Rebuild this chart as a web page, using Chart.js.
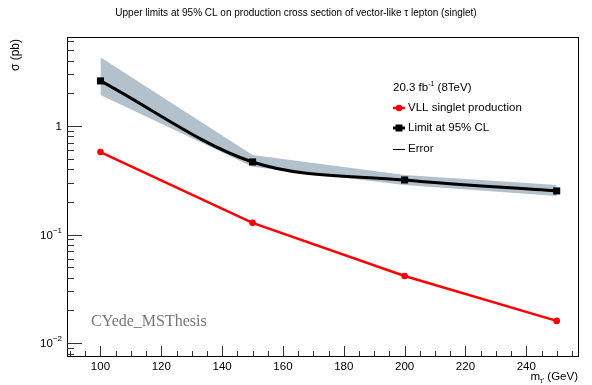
<!DOCTYPE html>
<html>
<head>
<meta charset="utf-8">
<script src="https://cdn.jsdelivr.net/npm/chart.js@4"></script>
<style>
  html, body { margin: 0; padding: 0; background: #fff; }
  #wrap { width: 592px; height: 385px; }
</style>
</head>
<body>
<div id="wrap"><canvas id="chart1" width="592" height="385"></canvas></div>
<script>
// masses (GeV)
const masses = [100, 150, 200, 250];
// VLL singlet production cross section (pb)
const vllXsec = [0.575, 0.128, 0.0415, 0.016];
// observed 95% CL limit (pb)
const limit95 = [2.6, 0.466, 0.318, 0.252];
// error band
const errUp = [4.3, 0.54, 0.353, 0.286];
const errDown = [1.93, 0.42, 0.286, 0.226];
// axis ticks
const xTicks = [100, 120, 140, 160, 180, 200, 220, 240];
const yTicks = [1, 0.1, 0.01];
const yTickLabels = [['1', ''], ['10', '\u22121'], ['10', '\u22122']];

const pts = arr => masses.map((m, i) => ({ x: m, y: arr[i] }));
const FONT = '"Liberation Sans", Arial, sans-serif';

// frame, inner ticks, labels, legend and watermark drawn like the ROOT canvas
const rootStyle = {
  id: 'rootStyle',
  afterDraw(chart) {
    const ctx = chart.ctx;
    const a = chart.chartArea;
    const xs = chart.scales.x, ys = chart.scales.y;
    ctx.save();
    ctx.strokeStyle = '#000';
    ctx.lineWidth = 1;
    ctx.strokeRect(a.left + 0.5, a.top + 0.5, a.right - a.left, a.bottom - a.top);

    // x ticks (major every 20, minor every 5)
    ctx.strokeStyle = '#333';
    for (let v = 90; v <= 255; v += 5) {
      const px = Math.round(xs.getPixelForValue(v)) + 0.5;
      const len = (v % 20 === 0) ? 10 : 5;
      ctx.beginPath();
      ctx.moveTo(px, a.bottom);
      ctx.lineTo(px, a.bottom - len);
      ctx.stroke();
    }
    ctx.fillStyle = '#000';
    ctx.font = '11.5px ' + FONT;
    ctx.textAlign = 'center';
    ctx.textBaseline = 'top';
    xTicks.forEach(v => ctx.fillText(String(v), xs.getPixelForValue(v), a.bottom + 5));

    // y ticks (log)
    for (let e = -3; e <= 1; e++) {
      for (let k = 1; k <= 9; k++) {
        const v = k * Math.pow(10, e);
        if (v < ys.min || v > ys.max) continue;
        const py = Math.round(ys.getPixelForValue(v)) + 0.5;
        const len = k === 1 ? 15 : 7;
        ctx.beginPath();
        ctx.moveTo(a.left, py);
        ctx.lineTo(a.left + len, py);
        ctx.stroke();
      }
    }
    yTicks.forEach((v, i) => {
      const py = ys.getPixelForValue(v);
      const [base, sup] = yTickLabels[i];
      ctx.textAlign = 'right';
      ctx.textBaseline = 'middle';
      let x = a.left - 5;
      if (sup) {
        ctx.font = '8px ' + FONT;
        ctx.fillText(sup, x, py - 4);
        x -= ctx.measureText(sup).width;
      }
      ctx.font = '11.5px ' + FONT;
      ctx.fillText(base, x, py + 1);
    });

    // title
    ctx.font = '10px ' + FONT;
    ctx.textAlign = 'center';
    ctx.textBaseline = 'middle';
    ctx.fillText('Upper limits at 95% CL on production cross section of vector-like \u03c4 lepton (singlet)', 296, 13);

    // y title
    ctx.save();
    ctx.translate(16, a.top + 2);
    ctx.rotate(-Math.PI / 2);
    ctx.font = '12px ' + FONT;
    ctx.textAlign = 'right';
    ctx.textBaseline = 'middle';
    ctx.fillText('\u03c3 (pb)', 0, 0);
    ctx.restore();

    // x title  m_tau' (GeV)
    ctx.textAlign = 'left';
    ctx.textBaseline = 'alphabetic';
    const t1 = 'm', t3 = ' (GeV)';
    ctx.font = '7px ' + FONT;
    const subW = ctx.measureText("\u03c4'").width;
    ctx.font = '11.5px ' + FONT;
    const w1 = ctx.measureText(t1).width, w3 = ctx.measureText(t3).width;
    let xx = a.right - (w1 + subW + w3);
    ctx.fillText(t1, xx, 380); xx += w1;
    ctx.font = '7px ' + FONT;
    ctx.fillText("\u03c4'", xx, 383); xx += subW;
    ctx.font = '11.5px ' + FONT;
    ctx.fillText(t3, xx, 380);

    // legend
    const lx = 393;
    ctx.font = '11.5px ' + FONT;
    ctx.textBaseline = 'middle';
    ctx.fillText('20.3 fb', lx, 88);
    let w = ctx.measureText('20.3 fb').width;
    ctx.font = '7px ' + FONT;
    ctx.fillText('-1', lx + w, 84);
    w += ctx.measureText('-1').width;
    ctx.font = '11.5px ' + FONT;
    ctx.fillText(' (8TeV)', lx + w, 88);

    const rows = [
      { y: 108, color: '#ff0000', label: 'VLL singlet production', marker: 'circle', lw: 2.5 },
      { y: 128, color: '#000', label: 'Limit at 95% CL', marker: 'square', lw: 3 },
      { y: 149, color: '#000', label: 'Error', marker: null, lw: 1 }
    ];
    rows.forEach(r => {
      ctx.strokeStyle = r.color;
      ctx.fillStyle = r.color;
      ctx.lineWidth = r.lw;
      ctx.beginPath();
      ctx.moveTo(lx, Math.round(r.y) + (r.lw === 1 ? 0.5 : 0));
      ctx.lineTo(lx + 12, Math.round(r.y) + (r.lw === 1 ? 0.5 : 0));
      ctx.stroke();
      if (r.marker === 'circle') {
        ctx.beginPath();
        ctx.arc(lx + 6, r.y, 3.3, 0, Math.PI * 2);
        ctx.fill();
      } else if (r.marker === 'square') {
        ctx.fillRect(lx + 2.5, r.y - 3.5, 7, 7);
      }
      ctx.fillStyle = '#000';
      ctx.font = '11.5px ' + FONT;
      ctx.fillText(r.label, lx + 15, r.y);
    });

    // watermark
    ctx.fillStyle = '#777';
    ctx.font = '16px "Liberation Serif", "DejaVu Serif", serif';
    ctx.textAlign = 'left';
    ctx.textBaseline = 'alphabetic';
    ctx.fillText('CYede_MSThesis', 91, 326);
    ctx.restore();
  }
};

const ctx1 = document.getElementById('chart1').getContext('2d');
const myChart1 = new Chart(ctx1, {
  type: 'line',
  data: {
    datasets: [
      {
        label: 'Error up',
        data: pts(errUp),
        borderWidth: 0,
        pointRadius: 0,
        backgroundColor: 'rgba(178, 193, 204, 1)',
        fill: '+1',
        tension: 0,
        order: 3
      },
      {
        label: 'Error down',
        data: pts(errDown),
        borderWidth: 0,
        pointRadius: 0,
        fill: false,
        tension: 0,
        order: 3
      },
      {
        label: 'Limit at 95% CL',
        data: pts(limit95),
        borderColor: '#000',
        backgroundColor: '#000',
        borderWidth: 3,
        pointStyle: 'rect',
        pointRadius: 5,
        pointBorderWidth: 0,
        fill: false,
        cubicInterpolationMode: 'monotone',
        order: 2
      },
      {
        label: 'VLL singlet production',
        data: pts(vllXsec),
        borderColor: '#ff0000',
        backgroundColor: '#ff0000',
        borderWidth: 2.5,
        pointStyle: 'circle',
        pointRadius: 3.3,
        pointBorderWidth: 0,
        fill: false,
        tension: 0,
        order: 1
      }
    ]
  },
  options: {
    responsive: false,
    animation: false,
    devicePixelRatio: 1,
    layout: { padding: { left: 67, right: 14, top: 37, bottom: 29 } },
    plugins: { legend: { display: false }, tooltip: { enabled: false } },
    scales: {
      x: { type: 'linear', min: 89, max: 257, display: false },
      y: { type: 'logarithmic', min: 0.0076, max: 6.6, display: false }
    }
  },
  plugins: [rootStyle]
});
</script>
</body>
</html>
